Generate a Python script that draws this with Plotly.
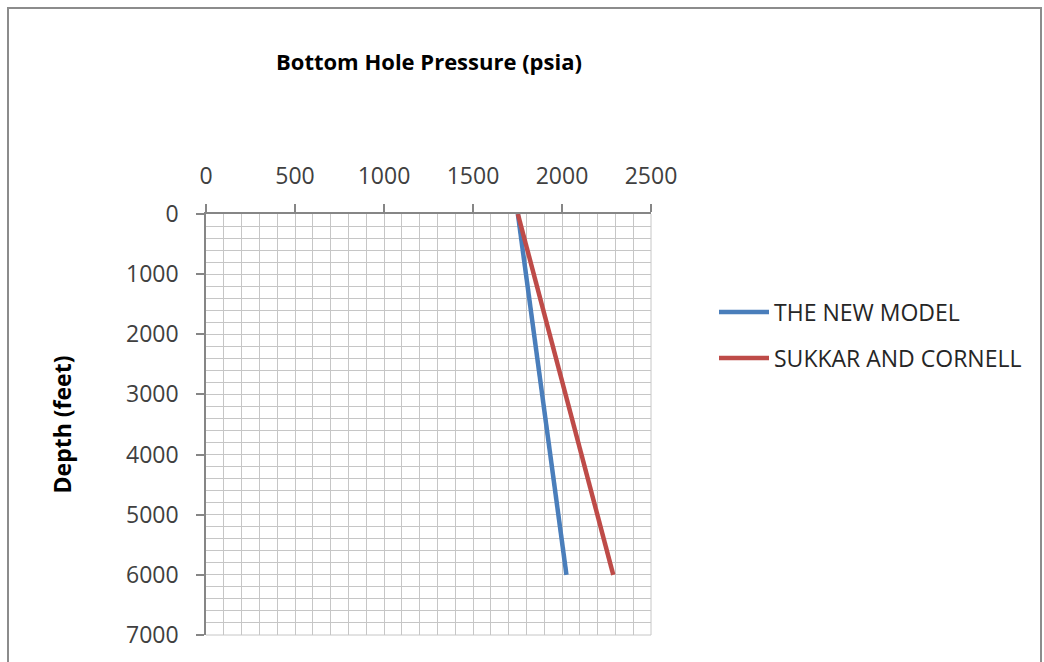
import plotly.graph_objects as go

# Data
depth_ft = [0, 3000, 6000]
new_model_psia = [1752, 1888, 2025]
sukkar_cornell_psia = [1752, 2020, 2288]

x_ticks = [0, 500, 1000, 1500, 2000, 2500]
y_ticks = [0, 1000, 2000, 3000, 4000, 5000, 6000, 7000]

series = [
    ("THE NEW MODEL", new_model_psia, "#4a7ebb"),
    ("SUKKAR AND CORNELL", sukkar_cornell_psia, "#be4b48"),
]

FONT = "Open Sans"

fig = go.Figure()
for i, (name, vals, col) in enumerate(series):
    fig.add_trace(go.Scatter(
        x=vals, y=depth_ft, mode="lines", name=name,
        line=dict(color=col, width=4.5),
        legendgroup=f"g{i}",
    ))

# plot area in pixels: x 206..651, y 214..637
L, R, T, B = 206, 651, 214, 637
W, H = 1044, 662
pw, ph = R - L, B - T

def px(xp):
    return (xp - L) / pw

def py(yp):
    return (B - yp) / ph

grid_col = "#c6c6c6"
axis_col = "#868686"

fig.update_layout(
    width=W, height=H,
    margin=dict(l=L, r=W - R, t=T, b=H - B),
    paper_bgcolor="white", plot_bgcolor="white",
    font=dict(family=FONT, color="#404040"),
    showlegend=True,
    legend=dict(
        x=px(714), y=py(291), xanchor="left", yanchor="top",
        font=dict(family=FONT, size=23, color="#262626"),
        itemwidth=50, tracegroupgap=13,
        bgcolor="rgba(0,0,0,0)",
    ),
    xaxis=dict(
        side="top", range=[0, 2500], tickvals=x_ticks,
        ticktext=[str(v) for v in x_ticks],
        showgrid=True, gridcolor=grid_col, gridwidth=1,
        minor=dict(dtick=100, showgrid=True, gridcolor=grid_col, gridwidth=1, ticks=""),
        showline=True, linecolor=axis_col, linewidth=1.5,
        ticks="outside", ticklen=8, tickcolor=axis_col, tickwidth=1.5,
        ticklabelstandoff=11,
        tickfont=dict(family=FONT, size=23, color="#404040"),
        zeroline=False, fixedrange=True,
    ),
    yaxis=dict(
        range=[7000, 0], tickvals=y_ticks,
        ticktext=[str(v) for v in y_ticks],
        showgrid=True, gridcolor=grid_col, gridwidth=1,
        minor=dict(dtick=200, showgrid=True, gridcolor=grid_col, gridwidth=1, ticks=""),
        showline=True, linecolor=axis_col, linewidth=1.5,
        ticks="outside", ticklen=8, tickcolor=axis_col, tickwidth=1.5,
        ticklabelstandoff=13,
        tickfont=dict(family=FONT, size=23, color="#404040"),
        zeroline=False, fixedrange=True,
        title=dict(text="<b>Depth (feet)</b>", font=dict(family=FONT, size=23, color="#000000"), standoff=48),
    ),
    annotations=[dict(
        text="<b>Bottom Hole Pressure (psia)</b>",
        xref="paper", yref="paper", x=px(429), y=py(60),
        xanchor="center", yanchor="middle", showarrow=False,
        font=dict(family=FONT, size=22, color="#000000"),
    )],
    shapes=[
        # outer chart frame
        dict(type="rect", xref="paper", yref="paper",
             x0=px(8), x1=px(1041), y0=py(675), y1=py(7),
             line=dict(color="#8c8c8c", width=2), layer="below"),
        # right and bottom edge gridlines of the plot area
        dict(type="line", xref="paper", yref="paper", x0=1, x1=1, y0=0, y1=1,
             line=dict(color=grid_col, width=1)),
        dict(type="line", xref="paper", yref="paper", x0=0, x1=1, y0=0, y1=0,
             line=dict(color=grid_col, width=1)),
    ],
)

fig.write_html("out.html")
